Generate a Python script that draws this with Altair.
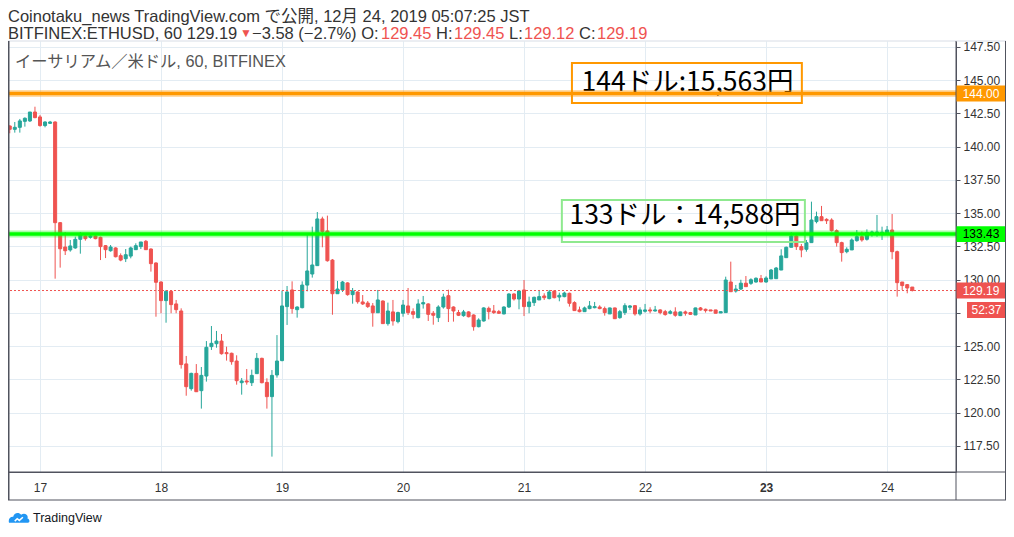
import altair as alt
import pandas as pd

# ---------------- data ----------------
opens = [141.56,141.31,141.46,141.91,141.94,142.61,142.24,141.59,141.76,141.86,
         134.29,132.46,132.24,132.39,133.04,133.29,133.19,133.29,133.19,132.56,
         132.18,132.39,131.81,131.58,131.78,132.26,132.49,132.89,132.31,131.26,
         129.83,128.43,129.13,128.18,127.65,123.67,121.81,122.96,121.66,122.76,
         124.97,125.19,125.39,124.52,124.47,123.89,122.26,122.39,122.26,122.94,
         124.09,122.28,121.21,122.84,123.92,127.98,129.23,127.75,127.90,129.60,
         130.43,131.06,134.57,133.67,131.48,128.95,129.23,129.76,128.88,129.08,
         128.33,128.25,128.03,127.52,128.40,126.70,127.58,126.85,127.48,128.03,
         127.60,127.15,128.18,128.18,127.48,127.15,127.95,128.80,127.95,127.53,
         127.30,127.58,127.35,126.47,126.90,127.85,127.65,127.60,127.43,127.95,
         128.93,128.55,129.23,127.98,128.28,128.48,128.78,128.58,129.15,128.70,
         128.73,128.98,128.28,127.73,127.60,127.83,127.90,127.95,127.83,127.43,
         127.88,127.15,127.53,127.93,128.05,127.43,127.63,127.73,127.65,127.73,
         127.60,127.48,127.58,127.30,127.58,127.53,127.35,127.88,127.78,127.73,
         127.73,127.50,127.53,129.83,129.15,129.30,129.74,129.73,129.83,130.08,
         129.83,130.06,130.08,130.73,131.66,132.44,133.29,132.49,132.29,132.79,
         134.37,134.74,134.54,134.49,133.69,132.79,132.11,132.24,132.94,133.24,
         133.04,133.49,133.49,133.49,133.49,133.74,132.11,129.83,129.63,129.45]
highs = [141.61,141.86,142.09,142.21,142.61,143.01,142.39,141.91,141.94,141.91,
         134.34,133.59,132.99,133.24,133.59,133.34,133.44,133.34,133.24,132.61,
         132.61,132.44,131.98,132.31,132.49,132.74,132.84,132.99,132.36,131.31,
         129.88,129.23,129.18,128.48,127.85,124.27,123.01,123.66,123.44,125.39,
         126.52,126.15,125.92,124.97,124.52,124.32,122.61,123.29,123.24,124.49,
         124.14,122.59,123.21,125.84,129.18,129.53,129.88,128.00,129.88,133.36,
         133.99,135.09,134.74,134.82,131.56,129.91,129.91,129.81,129.38,129.13,
         128.85,128.40,128.25,129.23,128.45,128.28,128.48,127.60,128.48,129.38,
         127.85,128.53,128.78,128.23,127.65,128.08,128.95,129.25,128.00,127.73,
         127.73,127.63,127.40,127.10,127.93,127.98,128.10,127.73,128.00,128.98,
         128.98,129.23,129.98,128.73,128.73,129.23,128.98,129.23,129.20,129.03,
         129.10,129.03,128.38,127.98,127.98,128.40,128.33,128.08,127.98,127.90,
         127.90,127.73,128.23,128.10,128.10,127.93,128.18,127.93,128.03,127.78,
         127.73,127.73,127.93,127.60,127.68,127.58,127.90,127.95,127.83,127.73,
         127.73,127.60,130.23,131.36,129.61,130.00,130.28,130.11,130.18,130.36,
         130.26,130.81,130.96,132.29,132.49,133.57,133.49,132.69,132.99,135.87,
         135.12,135.55,134.62,134.62,133.79,132.86,132.44,133.11,133.74,133.62,
         133.79,133.69,134.87,133.99,134.04,134.94,132.19,129.83,129.68,129.45]
lows = [141.01,141.06,141.06,141.51,141.86,142.14,141.51,141.46,141.71,130.08,
        130.91,131.86,132.11,132.33,131.96,132.94,133.09,133.04,131.48,131.63,
        132.11,131.68,131.39,131.33,131.61,132.24,132.31,132.24,130.61,127.22,
        127.48,126.77,127.48,127.48,123.32,121.28,121.66,121.56,120.31,122.34,
        124.72,124.89,124.37,123.92,123.61,122.11,121.36,122.11,122.01,122.94,
        122.21,120.31,116.70,122.64,123.87,126.60,127.45,127.15,127.85,129.13,
        130.16,131.06,132.44,131.36,127.37,128.95,129.08,128.80,128.20,128.20,
        128.10,127.88,126.47,127.52,126.70,126.55,126.55,126.72,127.22,127.35,
        127.07,127.10,127.83,126.90,126.62,126.82,127.83,126.82,126.85,127.27,
        127.22,127.17,126.17,126.42,126.85,127.02,127.43,127.43,127.40,127.88,
        128.43,127.78,127.27,127.48,128.03,128.48,128.48,128.53,128.60,128.38,
        128.68,127.98,127.65,127.55,127.58,127.78,127.85,127.78,127.30,127.43,
        127.05,127.07,127.35,127.73,127.30,127.30,127.53,127.48,127.60,127.40,
        127.30,127.40,127.22,127.27,127.30,127.35,127.35,127.68,127.53,127.65,
        127.48,127.50,127.53,129.10,129.03,129.23,129.48,129.61,129.78,129.83,
        129.78,130.06,130.08,130.73,131.66,132.44,132.24,131.69,132.11,132.79,
        134.24,134.44,134.19,133.62,132.49,131.36,131.99,132.24,132.86,132.86,
        132.94,133.24,133.24,132.99,133.37,131.54,128.73,129.23,128.98,129.12]
closes = [141.31,141.46,141.94,142.14,142.61,142.19,141.59,141.86,141.86,134.29,
          132.33,132.18,132.54,133.04,133.39,133.09,133.29,133.09,132.49,132.26,
          132.46,131.73,131.48,131.88,132.39,132.56,132.84,132.26,131.21,129.81,
          128.43,129.13,128.13,127.75,123.62,121.96,122.96,121.58,122.81,124.92,
          125.22,125.39,124.44,124.44,123.84,122.41,122.39,122.31,122.81,124.09,
          122.26,121.21,122.81,123.89,128.03,129.08,127.83,127.95,129.60,130.66,
          131.11,134.57,133.62,131.43,128.95,129.30,129.83,128.88,129.15,128.35,
          128.18,127.98,127.52,128.48,126.70,127.65,126.90,127.53,128.10,127.53,
          127.40,128.18,128.28,127.40,127.33,127.95,128.70,127.83,127.65,127.33,
          127.58,127.22,126.47,126.97,127.88,127.60,127.53,127.48,127.95,128.93,
          128.55,129.15,127.98,128.33,128.68,128.73,128.65,129.08,128.65,128.83,
          129.00,128.23,127.68,127.60,127.88,128.03,127.98,127.83,127.53,127.88,
          127.07,127.60,128.05,128.03,127.43,127.73,127.73,127.65,127.73,127.53,
          127.38,127.60,127.33,127.58,127.48,127.40,127.88,127.73,127.68,127.65,
          127.48,127.60,129.98,129.10,129.30,129.74,129.48,130.00,130.11,129.83,
          130.13,130.73,130.88,131.79,132.44,133.29,132.49,132.24,132.79,134.49,
          134.74,134.44,134.44,133.69,132.79,132.04,132.29,132.99,133.24,132.99,
          133.54,133.59,133.59,133.57,133.74,132.11,129.78,129.56,129.38,129.19]
first_hour = -6          # first candle: Dec 16 18:00 (hours from Dec 17 00:00)

day_ticks = [0, 24, 48, 72, 96, 120, 144, 168]
day_labels = ["17", "18", "19", "20", "21", "22", "23", "24"]
price_ticks = [117.5, 120.0, 122.5, 125.0, 127.5, 130.0, 132.5, 135.0,
               137.5, 140.0, 142.5, 145.0, 147.5]
hidden_tick = 127.5      # covered by the countdown tag in the original

level_prices = [144.00, 133.43]
level_colors = ["#ff9800", "#00ff00"]
level_text_colors = ["#ffffff", "#000000"]
last_close = 129.19
countdown = "52:37"

note_texts = ["144ドル:15,563円", "133ドル：14,588円"]
note_colors = ["#ff9800", "#8fe98f"]
note_x = [105.5, 103.5]
note_x2 = [151.1, 151.7]
note_y = [146.30, 136.00]
note_y2 = [143.29, 132.84]
note_tx = [107.4, 105.0]
note_ty = [144.79, 134.79]

title_line1 = "Coinotaku_news TradingView.com で公開, 12月 24, 2019 05:07:25 JST"
legend_text = "イーサリアム／米ドル, 60, BITFINEX"

# ---------------- styling ----------------
UP, DOWN = "#26a69a", "#ef5350"
W, H = 948, 431
PW = 50                  # width of the price-scale panel
FONT = "Liberation Sans, Noto Sans CJK JP, sans-serif"
HS = 16.5                # header font size

candles = pd.DataFrame({
    "t": [first_hour + i for i in range(len(opens))],
    "open": opens, "high": highs, "low": lows, "close": closes,
})
candles["col"] = [UP if c >= o else DOWN for o, c in zip(opens, closes)]
candles["t0"] = candles["t"] - 0.3
candles["t1"] = candles["t"] + 0.3

xs = alt.Scale(domain=[-6.347, 181.67], nice=False, zero=False)
ys = alt.Scale(domain=[115.545, 147.95], nice=False, zero=False)

GRID = "#e3ecf3"
AX = "#50535e"

x_axis = alt.Axis(values=day_ticks, title=None, grid=True, gridColor=GRID,
                  ticks=False, tickSize=0, domain=True, domainColor=AX,
                  labelExpr="[" + ",".join("'%s'" % s for s in day_labels) + "][round(datum.value/24)]",
                  labelFont=FONT, labelFontSize=12, labelColor="#333333",
                  labelPadding=10,
                  labelFontWeight={"condition": {"test": "datum.value == 144", "value": "bold"},
                                   "value": "normal"})
y_axis = alt.Axis(values=price_ticks, orient="right", title=None,
                  labelExpr="datum.value == %s ? '' : format(datum.value, '.2f')" % hidden_tick,
                  grid=True, gridColor=GRID, tickSize=4, tickColor=AX,
                  domainColor=AX, labelFont=FONT, labelFontSize=12,
                  labelColor="#333333", labelPadding=3)


def X(field):
    return alt.X(field, type="quantitative", scale=xs, axis=x_axis)


def Y(field):
    return alt.Y(field, type="quantitative", scale=ys, axis=y_axis)


wicks = alt.Chart(candles).mark_rule(strokeWidth=1).encode(
    x=X("t"), y=Y("low"), y2="high",
    color=alt.Color("col:N", scale=None),
)
bodies = alt.Chart(candles).mark_rect(strokeWidth=1).encode(
    x=X("t0"), x2="t1", y=Y("open"), y2="close",
    fill=alt.Color("col:N", scale=None),
    stroke=alt.Color("col:N", scale=None),
)

notes = pd.DataFrame({"x": note_x, "x2": note_x2, "y": note_y, "y2": note_y2,
                      "tx": note_tx, "ty": note_ty, "text": note_texts,
                      "color": note_colors})
note_boxes = alt.Chart(notes).mark_rect(fillOpacity=0, strokeWidth=2).encode(
    x=X("x"), x2="x2", y=Y("y"), y2="y2",
    stroke=alt.Color("color:N", scale=None),
)
note_text = alt.Chart(notes).mark_text(align="left", baseline="middle", font="Noto Sans CJK JP",
                                      fontSize=26.5, color="#000000").encode(
    x=X("tx"), y=Y("ty"), text="text:N",
)

levels = pd.DataFrame({"price": level_prices, "color": level_colors,
                       "tcolor": level_text_colors,
                       "label": ["%.2f" % p for p in level_prices]})
levels["hi"] = levels["price"] + 0.6
levels["lo"] = levels["price"] - 0.6
halo = alt.Chart(levels).mark_rule(strokeWidth=7, opacity=0.35).encode(
    y=Y("price"), color=alt.Color("color:N", scale=None))
core = alt.Chart(levels).mark_rule(strokeWidth=3.5).encode(
    y=Y("price"), color=alt.Color("color:N", scale=None))

last = pd.DataFrame({"price": [last_close], "label": ["%.2f" % last_close],
                     "hi": [last_close + 0.6], "lo": [last_close - 0.6],
                     "cd": [countdown], "cdhi": [last_close - 0.86], "cdlo": [last_close - 2.06],
                     "cdy": [last_close - 1.46]})
last_line = alt.Chart(last).mark_rule(strokeWidth=1, strokeDash=[2, 2], color=DOWN).encode(
    y=Y("price"))

tag_boxes = alt.Chart(levels).mark_rect().encode(
    x=alt.value(W), x2=alt.value(W + PW), y=Y("hi"), y2="lo",
    fill=alt.Color("color:N", scale=None))
tag_text = alt.Chart(levels).mark_text(font=FONT, fontSize=12, align="center", baseline="middle").encode(
    x=alt.value(W + PW / 2), y=Y("price"), text="label:N",
    color=alt.Color("tcolor:N", scale=None))
last_box = alt.Chart(last).mark_rect(color=DOWN).encode(
    x=alt.value(W), x2=alt.value(W + PW), y=Y("hi"), y2="lo")
last_text = alt.Chart(last).mark_text(font=FONT, fontSize=12, color="#ffffff", align="center",
                                      baseline="middle").encode(
    x=alt.value(W + PW / 2), y=Y("price"), text="label:N")
cd_box = alt.Chart(last).mark_rect(color=DOWN).encode(
    x=alt.value(W + 11), x2=alt.value(W + PW), y=Y("cdhi"), y2="cdlo")
cd_text = alt.Chart(last).mark_text(font=FONT, fontSize=12, color="#ffffff", align="center",
                                    baseline="middle").encode(
    x=alt.value(W + 11 + (PW - 11) / 2), y=Y("cdy"), text="cd:N")

one = pd.DataFrame({"a": [0]})


def rule(x, x2, y, y2, color, width=1.0):
    return alt.Chart(one).mark_rule(color=color, strokeWidth=width).encode(
        x=alt.value(x), x2=alt.value(x2), y=alt.value(y), y2=alt.value(y2))


frames = [
    rule(0, W + PW, 0, 0, "#d8dde6"),
    rule(0.75, 0.75, 0, H + 28, AX, 1.5),
    rule(W, W, 0, H + 28, AX),
    rule(W + PW - 0.5, W + PW - 0.5, 0, H + 28, AX),
    rule(0, W + PW, H, H, AX),
    rule(0, W + PW, H + 28, H + 28, AX),
]


def txt(text, x, y, color="#333333", size=HS, font=FONT, weight="normal"):
    return alt.Chart(one).mark_text(text=text, align="left", baseline="middle", font=font,
                                    fontSize=size, color=color, fontWeight=weight).encode(
        x=alt.value(x), y=alt.value(y))


y1, y2 = -24.5, -7.5
header = [
    txt(title_line1, 0, y1),
    txt("BITFINEX:ETHUSD, 60 129.19", 0, y2),
    txt("▼", 232, y2 - 1, DOWN, 12),
    txt("−3.58 (−2.7%) O:", 244, y2),
    txt("129.45", 373, y2, DOWN),
    txt("H:", 428, y2),
    txt("129.45", 446, y2, DOWN),
    txt("L:", 501, y2),
    txt("129.12", 516, y2, DOWN),
    txt("C:", 571, y2),
    txt("129.19", 589, y2, DOWN),
    txt(legend_text, 7, 21, "#555555", 16.3),
    txt("TradingView", 25, 477, "#131722", 12.5),
]

logo = alt.Chart(one).mark_point(
    shape="M-0.95,0.45 C-1.05,0.1 -0.85,-0.15 -0.55,-0.12 C-0.5,-0.5 0.0,-0.6 0.2,-0.3 "
          "C0.5,-0.55 0.95,-0.3 0.8,0.05 C1.05,0.1 1.05,0.45 0.85,0.45 Z",
    filled=True, fill="#2196f3", strokeWidth=0, size=441, opacity=1).encode(
    x=alt.value(11), y=alt.value(477))
logo_line = alt.Chart(one).mark_point(
    shape="M-0.6,0.3 L-0.25,-0.05 L0.05,0.2 L0.55,-0.25",
    filled=False, stroke="#ffffff", strokeWidth=1.5, size=200, opacity=1).encode(
    x=alt.value(11), y=alt.value(478))

chart = alt.layer(
    wicks, bodies, note_boxes, note_text, halo, core, last_line,
    tag_boxes, tag_text, last_box, last_text, cd_box, cd_text,
    *frames, *header, logo, logo_line,
).properties(
    width=W, height=H,
    autosize=alt.AutoSizeParams(type="none"),
    padding={"left": 0, "top": 33, "right": PW, "bottom": 55},
    background="#ffffff",
).configure_view(stroke=None)

chart.save("out.html", embed_options={"renderer": "svg", "actions": False})
